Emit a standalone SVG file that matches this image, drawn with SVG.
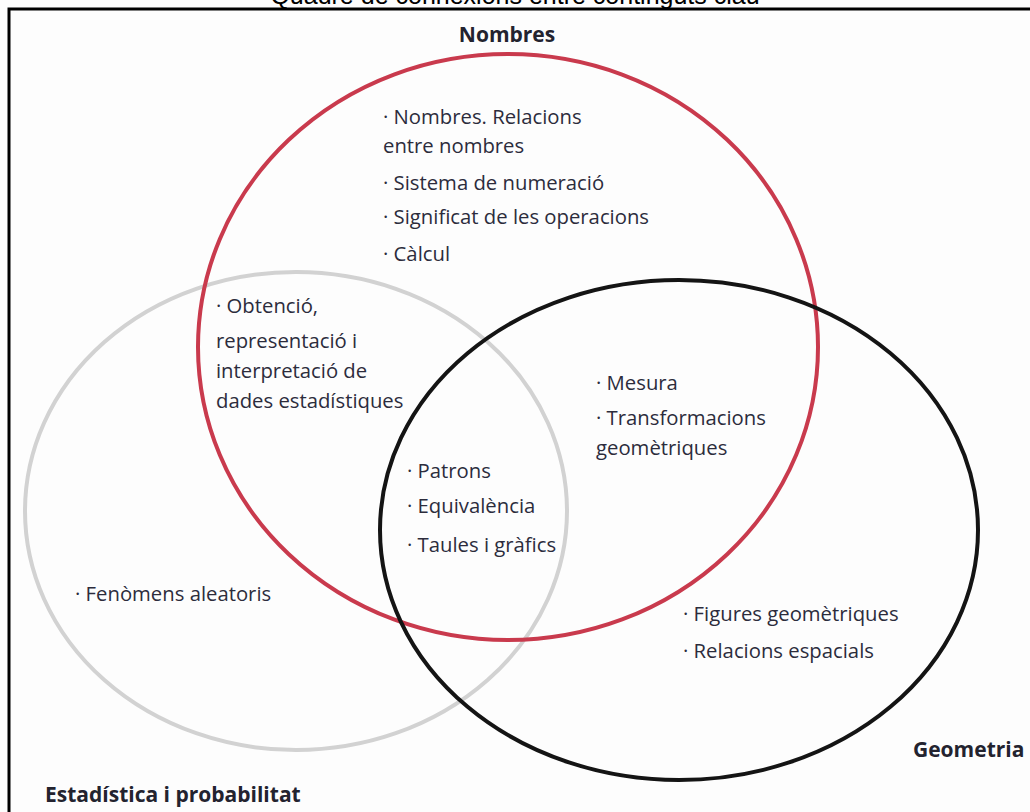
<svg xmlns="http://www.w3.org/2000/svg" width="1030" height="812" viewBox="0 0 1030 812">
<style>
.t{font-family:"Open Sans","DejaVu Sans",sans-serif;font-size:20.3px;fill:#2c2c3c}
.h{font-family:"Open Sans","DejaVu Sans",sans-serif;font-size:21px;font-weight:bold;fill:#23232f}
.c{fill:none;stroke-width:4}
</style>
<rect width="1030" height="812" fill="#fdfdfd"/>
<text x="515" y="4" text-anchor="middle" style="font-family:'Liberation Sans',Arial,sans-serif;font-size:25px;fill:#000">Quadre de connexions entre continguts clau</text>
<path d="M9,830 V9 H1040" fill="none" stroke="#000" stroke-width="3"/>
<g id="circles">
<ellipse id="estadistica" class="c" cx="296" cy="511" rx="271" ry="239" stroke="#d2d2d2"/>
<ellipse id="nombres" class="c" cx="508" cy="347" rx="310" ry="293" stroke="#c93a4d"/>
<ellipse id="geometria" class="c" cx="679" cy="530" rx="299" ry="250" stroke="#141414"/>
</g>
<g id="labels">
<text class="h" x="507" y="42" text-anchor="middle">Nombres</text>
<text class="h" x="913" y="757">Geometria</text>
<text class="h" x="45" y="802">Estadística i probabilitat</text>
</g>
<g id="nombres-items">
<text class="t" x="383" y="124">· Nombres. Relacions</text>
<text class="t" x="383" y="153">entre nombres</text>
<text class="t" x="383" y="190">· Sistema de numeració</text>
<text class="t" x="383" y="224">· Significat de les operacions</text>
<text class="t" x="383" y="261">· Càlcul</text>
</g>
<g id="nombres-estadistica">
<text class="t" x="216" y="313">· Obtenció,</text>
<text class="t" x="216" y="348">representació i</text>
<text class="t" x="216" y="378">interpretació de</text>
<text class="t" x="216" y="408">dades estadístiques</text>
</g>
<g id="nombres-geometria">
<text class="t" x="596" y="390">· Mesura</text>
<text class="t" x="596" y="425">· Transformacions</text>
<text class="t" x="596" y="455">geomètriques</text>
</g>
<g id="centre">
<text class="t" x="407" y="478">· Patrons</text>
<text class="t" x="407" y="513">· Equivalència</text>
<text class="t" x="407" y="552">· Taules i gràfics</text>
</g>
<g id="estadistica-items">
<text class="t" x="75" y="601">· Fenòmens aleatoris</text>
</g>
<g id="geometria-items">
<text class="t" x="683" y="621">· Figures geomètriques</text>
<text class="t" x="683" y="658">· Relacions espacials</text>
</g>
</svg>
